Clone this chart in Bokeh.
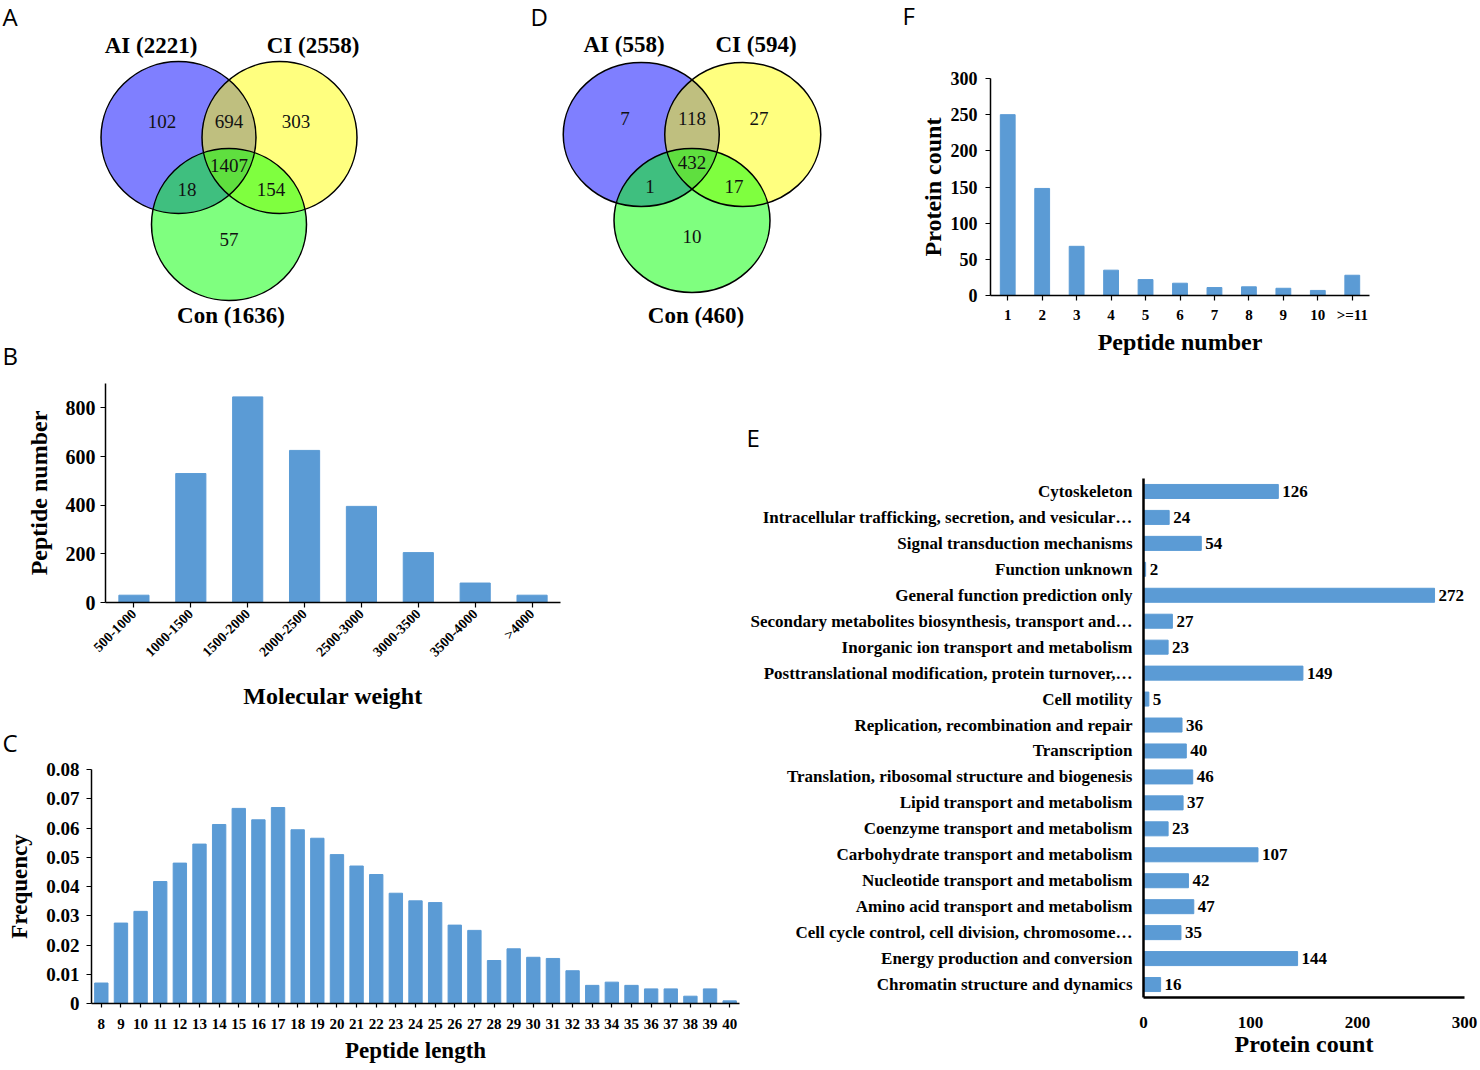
import math
from bokeh.plotting import figure
from bokeh.models import Range1d, FactorRange, LabelSet, ColumnDataSource, FixedTicker
from bokeh.layouts import row, column
from bokeh.embed import file_html
from bokeh.resources import INLINE
from bokeh.core.properties import value

SERIF = "Liberation Serif"
SANS = "Open Sans"
BAR = "#5b9bd5"
VENN_COLORS = ["#0000ff", "#ffff00", "#00ff00"]

# ---------------- data ----------------
# Venn region order: AI only, AI&CI, CI only, all three, AI&Con, CI&Con, Con only
venn_a_sets = ["AI (2221)", "CI (2558)", "Con (1636)"]
venn_a_counts = [102, 694, 303, 1407, 18, 154, 57]
venn_d_sets = ["AI (558)", "CI (594)", "Con (460)"]
venn_d_counts = [7, 118, 27, 432, 1, 17, 10]

pep_num_labels = ["1", "2", "3", "4", "5", "6", "7", "8", "9", "10", ">=11"]
pep_num_counts = [250, 148, 68, 35, 22, 17, 11, 12, 10, 7, 28]
pep_num_yticks = [0, 50, 100, 150, 200, 250, 300]

mw_labels = ["500-1000", "1000-1500", "1500-2000", "2000-2500", "2500-3000",
             "3000-3500", "3500-4000", ">4000"]
mw_counts = [30, 530, 845, 625, 395, 205, 80, 30]
mw_yticks = [0, 200, 400, 600, 800]

len_labels = ["8", "9", "10", "11", "12", "13", "14", "15", "16", "17", "18", "19",
              "20", "21", "22", "23", "24", "25", "26", "27", "28", "29", "30", "31",
              "32", "33", "34", "35", "36", "37", "38", "39", "40"]
len_freq = [0.007, 0.0275, 0.0315, 0.0417, 0.048, 0.0545, 0.0612, 0.0667, 0.0628,
            0.067, 0.0594, 0.0565, 0.0509, 0.047, 0.0441, 0.0377, 0.0351, 0.0345,
            0.0268, 0.025, 0.0147, 0.0187, 0.0158, 0.0154, 0.0112, 0.0062, 0.0073,
            0.0062, 0.005, 0.005, 0.0025, 0.005, 0.0009]
len_yticks = [0, 0.01, 0.02, 0.03, 0.04, 0.05, 0.06, 0.07, 0.08]
len_ytick_labels = ["0", "0.01", "0.02", "0.03", "0.04", "0.05", "0.06", "0.07", "0.08"]

cog_labels = [
    "Cytoskeleton",
    "Intracellular trafficking, secretion, and vesicular\u2026",
    "Signal transduction mechanisms",
    "Function unknown",
    "General function prediction only",
    "Secondary metabolites biosynthesis, transport and\u2026",
    "Inorganic ion transport and metabolism",
    "Posttranslational modification, protein turnover,\u2026",
    "Cell motility",
    "Replication, recombination and repair",
    "Transcription",
    "Translation, ribosomal structure and biogenesis",
    "Lipid transport and metabolism",
    "Coenzyme transport and metabolism",
    "Carbohydrate transport and metabolism",
    "Nucleotide transport and metabolism",
    "Amino acid transport and metabolism",
    "Cell cycle control, cell division, chromosome\u2026",
    "Energy production and conversion",
    "Chromatin structure and dynamics",
]
cog_counts = [126, 24, 54, 2, 272, 27, 23, 149, 5, 36, 40, 46, 37, 23, 107, 42, 47, 35, 144, 16]
cog_xticks = [0, 100, 200, 300]

# ---------------- layout geometry ----------------
REG_DX = [-67, 0, 67, 0, -42, 42, 0]
REG_DY = [-16, -16, -16, 28, 52, 52, 102]
TOP_H = 372
LEFT_W = 745


def venn(width, x0, cx, cy, d, dy, rw, rh, sets, counts, set_off, letters):
    p = figure(width=width, height=TOP_H, x_range=Range1d(x0, x0 + width),
               y_range=Range1d(TOP_H, 0), x_axis_type=None, y_axis_type=None,
               output_backend="svg", toolbar_location=None, min_border=0)
    p.outline_line_color = None
    xs = [cx - d / 2, cx + d / 2, cx]
    ys = [cy, cy, cy + dy]
    p.ellipse(x=xs, y=ys, width=2 * rw, height=2 * rh, fill_color=VENN_COLORS,
              fill_alpha=0.5, line_color=None)
    p.ellipse(x=xs, y=ys, width=2 * rw, height=2 * rh, fill_color=None,
              line_color="black", line_width=1.5)
    p.text(x=[cx + o for o in REG_DX], y=[cy + o for o in REG_DY],
           text=[str(c) for c in counts], text_font=value(SERIF), text_font_size="19px",
           text_align="center", text_baseline="middle", text_color="#111111")
    p.text(x=[cx + o[0] for o in set_off], y=[cy + o[1] for o in set_off], text=sets,
           text_font=value(SERIF), text_font_size="23px", text_font_style="bold",
           text_align="center", text_baseline="middle", text_color="black")
    p.text(x=[l[1] for l in letters], y=[l[2] for l in letters], text=[l[0] for l in letters],
           text_font=value(SANS), text_font_size="24px", text_align="left",
           text_baseline="middle", text_color="black")
    return p


def style(p, tick_font_x, tick_font_y, label_font, line_w=1.5):
    p.xgrid.visible = False
    p.ygrid.visible = False
    p.outline_line_color = None
    for ax in p.axis:
        ax.axis_line_color = "black"
        ax.axis_line_width = line_w
        ax.major_tick_line_color = "black"
        ax.major_tick_line_width = 1.2
        ax.major_tick_in = 0
        ax.major_tick_out = 5
        ax.minor_tick_line_color = None
        ax.major_label_text_font = SERIF
        ax.major_label_text_font_style = "bold"
        ax.major_label_text_color = "black"
        ax.axis_label_text_font = SERIF
        ax.axis_label_text_font_style = "bold"
        ax.axis_label_text_color = "black"
        ax.axis_label_text_font_size = label_font
    p.xaxis.major_label_text_font_size = tick_font_x
    p.yaxis.major_label_text_font_size = tick_font_y


def panel_letter(p, txt, offset, standoff):
    p.title.text = txt
    p.title.text_font = SANS
    p.title.text_font_size = "24px"
    p.title.text_font_style = "normal"
    p.title.text_color = "black"
    p.title.align = "left"
    p.title.offset = offset
    p.title.standoff = standoff


# ---- A (also carries the letter of panel B) ----
pa = venn(520, 0, 228.5, 137, 101, 87, 77.5, 76, venn_a_sets, venn_a_counts,
          [(-78, -92), (84, -92), (2, 178)], [("A", 2, 16), ("B", 2, 355)])
# ---- D (also carries the letter of panel F) ----
pd_ = venn(396, 520, 691.5, 134, 101.5, 86, 78, 72, venn_d_sets, venn_d_counts,
           [(-68, -90), (64, -90), (4, 181)], [("D", 530, 16), ("F", 902, 15)])

# ---- F ----
pf = figure(width=562, height=TOP_H, x_range=FactorRange(*pep_num_labels), y_range=Range1d(0, 300),
            output_backend="svg", toolbar_location=None,
            min_border_left=71, min_border_right=109, min_border_top=78, min_border_bottom=77)
pf.vbar(x=pep_num_labels, top=pep_num_counts, width=0.43, color=BAR)
style(pf, "15px", "18px", "24px")
pf.yaxis.ticker = FixedTicker(ticks=pep_num_yticks)
pf.xaxis.axis_label = "Peptide number"
pf.yaxis.axis_label = "Protein count"
pf.xaxis.major_label_standoff = 6
pf.xaxis.axis_label_standoff = 3
pf.yaxis.major_label_standoff = 8
pf.yaxis.axis_label_standoff = 2

# ---- B ----
pb = figure(width=LEFT_W, height=340, x_range=FactorRange(*mw_labels), y_range=Range1d(0, 900),
            output_backend="svg", toolbar_location=None,
            min_border_left=105, min_border_right=LEFT_W - 560, min_border_top=11,
            min_border_bottom=109)
pb.vbar(x=mw_labels, top=mw_counts, width=0.53, color=BAR)
style(pb, "14px", "20px", "24px")
pb.yaxis.ticker = FixedTicker(ticks=mw_yticks)
pb.xaxis.major_label_orientation = math.pi / 4
pb.xaxis.axis_label = "Molecular weight"
pb.yaxis.axis_label = "Peptide number"
pb.xaxis.major_label_standoff = 4
pb.xaxis.axis_label_standoff = 15
pb.yaxis.major_label_standoff = 5
pb.yaxis.axis_label_standoff = 11

# ---- C ----
pc = figure(width=LEFT_W, height=356, x_range=FactorRange(*len_labels), y_range=Range1d(0, 0.08),
            output_backend="svg", toolbar_location=None,
            min_border_left=91, min_border_right=6, min_border_top=56, min_border_bottom=65)
pc.vbar(x=len_labels, top=len_freq, width=0.68, color=BAR)
style(pc, "15px", "19px", "23px")
pc.yaxis.ticker = FixedTicker(ticks=len_yticks)
pc.yaxis.major_label_overrides = dict(zip(len_yticks, len_ytick_labels))
pc.xaxis.major_tick_out = 4
pc.xaxis.axis_label = "Peptide length"
pc.yaxis.axis_label = "Frequency"
pc.xaxis.major_label_standoff = 11
pc.xaxis.axis_label_standoff = 6
pc.yaxis.major_label_standoff = 7
pc.yaxis.axis_label_standoff = 11
panel_letter(pc, "C", -89, 22)

# ---- E ----
pe = figure(width=1478 - LEFT_W, height=696, y_range=FactorRange(*reversed(cog_labels)),
            x_range=Range1d(0, 300), output_backend="svg", toolbar_location=None,
            min_border_left=1143 - LEFT_W, min_border_right=14, min_border_top=106,
            min_border_bottom=71)
pe.hbar(y=cog_labels, right=cog_counts, left=0, height=0.54, color=BAR)
style(pe, "17px", "17px", "24px", line_w=2.5)
pe.xaxis.ticker = FixedTicker(ticks=cog_xticks)
pe.xaxis.major_tick_out = 0
pe.yaxis.major_tick_out = 0
pe.xaxis.major_label_standoff = 19
pe.xaxis.axis_label_standoff = 0
pe.yaxis.major_label_standoff = 11
pe.xaxis.axis_label = "Protein count"
src = ColumnDataSource(dict(y=cog_labels, x=cog_counts, t=[str(v) for v in cog_counts]))
pe.add_layout(LabelSet(x="x", y="y", text="t", source=src, x_offset=4,
                       text_font=value(SERIF), text_font_size="17px", text_font_style="bold",
                       text_baseline="middle", text_color="black"))
panel_letter(pe, "E", LEFT_W + 1 - 1143, 50)

# each plot wrapped on its own so that frames are not aligned with neighbours
top = row(column(pa), column(pd_), column(pf), spacing=0)
bottom = row(column(column(pb), column(pc), spacing=0), column(pe), spacing=0)
root = column(top, bottom, spacing=0)

open("out.html", "w").write(file_html(root, INLINE))
